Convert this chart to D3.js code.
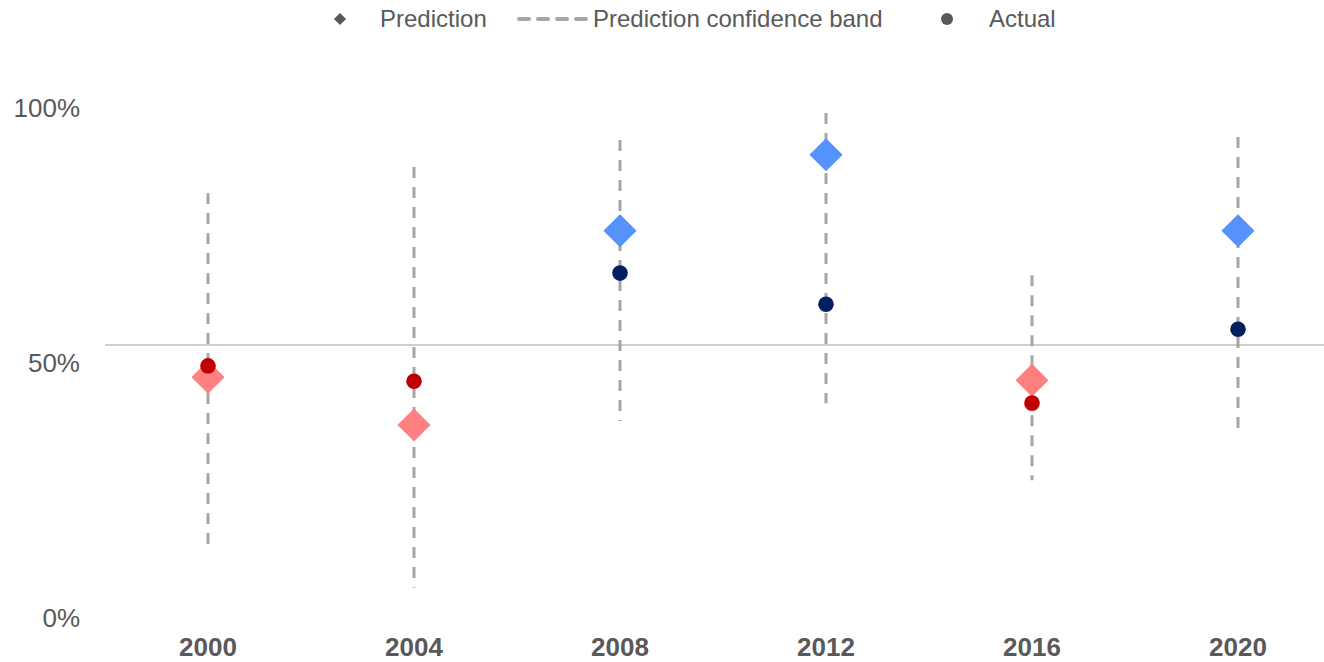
<!DOCTYPE html>
<html lang="en">
  <head>
    <meta charset="UTF-8" />
    <title>prediction-vs-actual</title>
    <style>
      body {
        margin: 0;
        font-family: Arial, "Liberation Sans", Helvetica, sans-serif;
        background: #fff;
      }
      svg {
        display: block;
      }
      .legend-text {
        font-size: 24px;
        fill: #595959;
      }
      .y-label {
        font-size: 26px;
        fill: #595959;
        text-anchor: end;
      }
      .x-label {
        font-size: 26px;
        font-weight: bold;
        fill: #595959;
        text-anchor: middle;
      }
    </style>
  </head>
  <body>
    <script src="https://cdn.jsdelivr.net/npm/d3@7"></script>
    <script>
      // data
      const years = ["2000", "2004", "2008", "2012", "2016", "2020"];
      const prediction = [0.437, 0.343, 0.724, 0.873, 0.431, 0.724];
      const actual = [0.459, 0.429, 0.641, 0.58, 0.386, 0.531];
      const bandLow = [0.102, 0.024, 0.351, 0.386, 0.235, 0.337];
      const bandHigh = [0.798, 0.849, 0.902, 0.955, 0.637, 0.908];
      const yTicks = [0, 0.5, 1];

      const width = 1324;
      const height = 662;

      const svg = d3
        .select("body")
        .append("svg")
        .attr("width", width)
        .attr("height", height);

      const x = d3.scalePoint().domain(years).range([105, 1341]).padding(0.5);
      const y = d3.scaleLinear().domain([0, 1]).range([600, 90]);

      const predColor = (v) => (v < 0.5 ? "#ff8080" : "#5592fb");
      const actColor = (v) => (v < 0.5 ? "#c00000" : "#002060");

      // 50% reference line
      svg
        .append("line")
        .attr("x1", 105)
        .attr("x2", width)
        .attr("y1", y(0.5))
        .attr("y2", y(0.5))
        .attr("stroke", "#bfbfbf")
        .attr("stroke-width", 1.5);

      // y labels (sit a little below their value, as in the original)
      svg
        .append("g")
        .selectAll("text")
        .data(yTicks)
        .join("text")
        .attr("class", "y-label")
        .attr("x", 80)
        .attr("y", (d) => y(d) + 18)
        .attr("dy", "0.35em")
        .text((d) => d3.format(".0%")(d));

      // x labels
      svg
        .append("g")
        .selectAll("text")
        .data(years)
        .join("text")
        .attr("class", "x-label")
        .attr("x", (d) => x(d))
        .attr("y", 656)
        .text((d) => d);

      // confidence bands
      svg
        .append("g")
        .selectAll("line")
        .data(years)
        .join("line")
        .attr("x1", (d) => x(d))
        .attr("x2", (d) => x(d))
        .attr("y1", (d, i) => y(bandHigh[i]))
        .attr("y2", (d, i) => y(bandLow[i]))
        .attr("stroke", "#a6a6a6")
        .attr("stroke-width", 3)
        .attr("stroke-dasharray", "11,9");

      // predictions (squares turned 45deg)
      svg
        .append("g")
        .selectAll("rect")
        .data(years)
        .join("rect")
        .attr("x", -11.7)
        .attr("y", -11.7)
        .attr("width", 23.4)
        .attr("height", 23.4)
        .attr("transform", (d, i) => `translate(${x(d)},${y(prediction[i])}) rotate(45)`)
        .attr("fill", (d, i) => predColor(prediction[i]));

      // actual results
      svg
        .append("g")
        .selectAll("circle")
        .data(years)
        .join("circle")
        .attr("cx", (d) => x(d))
        .attr("cy", (d, i) => y(actual[i]))
        .attr("r", 7.8)
        .attr("fill", (d, i) => actColor(actual[i]));

      // legend
      const legend = svg.append("g");
      legend
        .append("rect")
        .attr("x", -4.3)
        .attr("y", -4.3)
        .attr("width", 8.6)
        .attr("height", 8.6)
        .attr("transform", "translate(340,19) rotate(45)")
        .attr("fill", "#595959");
      legend
        .append("text")
        .attr("class", "legend-text")
        .attr("x", 380)
        .attr("y", 27)
        .text("Prediction");
      legend
        .append("line")
        .attr("x1", 519)
        .attr("x2", 587)
        .attr("y1", 19)
        .attr("y2", 19)
        .attr("stroke", "#a6a6a6")
        .attr("stroke-width", 4)
        .attr("stroke-linecap", "round")
        .attr("stroke-dasharray", "10,9");
      legend
        .append("text")
        .attr("class", "legend-text")
        .attr("x", 593)
        .attr("y", 27)
        .text("Prediction confidence band");
      legend
        .append("circle")
        .attr("cx", 947)
        .attr("cy", 19)
        .attr("r", 6)
        .attr("fill", "#595959");
      legend
        .append("text")
        .attr("class", "legend-text")
        .attr("x", 989)
        .attr("y", 27)
        .text("Actual");
    </script>
  </body>
</html>
